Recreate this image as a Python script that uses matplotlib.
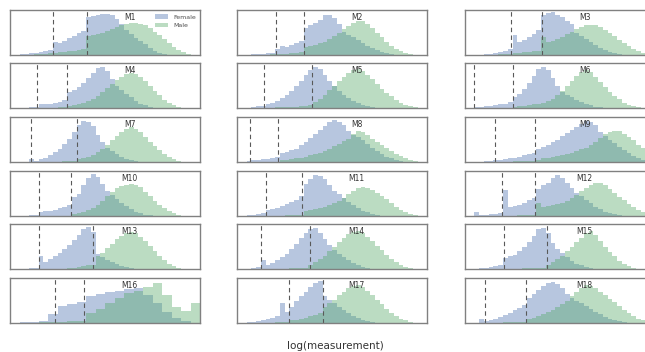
import numpy as np
import matplotlib.pyplot as plt

# panel labels
names = ["M%d" % i for i in range(1, 19)]

# histogram heights per panel (percent of panel height)
female = [
    [0,1,2,3, 4,5,7,9, 11,28,27,32, 38,43,48,53, 85,86,88,91, 92,88,80,68, 56,46,38,31, 24,16,9,5, 2,1,0,0, 0,0,0,0],
    [0,1,1,2, 3,3,4,5, 14,20,18,22, 27,32,60,66, 72,78,88,90, 82,68,52,45, 40,33,27,21, 16,11,7,4, 2,1,0,0, 0,0,0,0],
    [0,0,1,1, 2,3,4,6, 9,13,45,30, 34,40,46,55, 88,94,95,90, 84,76,68,50, 42,36,30,22, 16,11,7,4, 2,1,0,0, 0,0,0,0],
    [0,0,1,1, 2,2,8,8, 10,12,14,17, 35,40,46,55, 66,78,88,92, 82,65,50,40, 32,24,16,10, 6,3,1,0, 0,0,0,0, 0,0,0,0],
    [0,1,1,2, 4,5,8,11, 16,22,30,38, 48,60,74,85, 92,86,74,60, 48,38,30,22, 16,11,7,4, 2,1,0,0, 0,0,0,0, 0,0,0,0],
    [1,1,2,3, 4,5,6,8, 10,13,25,32, 42,56,72,86, 92,84,66,48, 36,30,24,18, 13,9,6,3, 2,1,0,0, 0,0,0,0, 0,0,0,0],
    [0,0,0,0, 6,3,6,10, 15,22,30,40, 52,66,82,92, 90,80,60,44, 32,24,17,11, 7,4,2,1, 0,0,0,0, 0,0,0,0, 0,0,0,0],
    [0,1,3,4, 5,6,7,9, 11,20,22,26, 30,37,45,54, 62,71,80,88, 93,90,82,70, 60,55,48,40, 32,24,18,12, 8,5,3,1, 0,0,0,0],
    [0,0,1,1, 2,3,4,5, 7,8,10,12, 15,17,20,30, 34,38,44,50, 57,64,71,78, 84,92,90,82, 66,58,50,42, 34,26,19,13, 8,5,3,1],
    [0,0,1,1, 2,3,10,11, 12,14,17,20, 25,42,50,70, 85,93,86,72, 56,46,38,30, 22,15,10,6, 3,2,1,0, 0,0,0,0, 0,0,0,0],
    [0,1,2,3, 4,6,14,15, 18,22,26,31, 36,44,72,82, 92,90,82,68, 56,48,40,32, 25,18,12,8, 5,3,1,0, 0,0,0,0, 0,0,0,0],
    [0,0,10,2, 3,4,5,6, 58,20,22,25, 30,35,40,60, 68,74,84,92, 84,74,62,52, 44,36,28,21, 15,10,7,4, 2,1,0,0, 0,0,0,0],
    [0,0,1,1, 2,3,28,16, 22,28,35,44, 54,64,76,88, 93,82,34,27, 20,15,11,7, 5,3,1,0, 0,0,0,0, 0,0,0,0, 0,0,0,0],
    [0,1,1,2, 4,20,10,14, 19,26,34,44, 55,68,80,90, 92,80,66,54, 43,34,26,19, 13,8,5,2, 1,0,0,0, 0,0,0,0, 0,0,0,0],
    [0,1,1,2, 3,5,7,10, 24,28,32,40, 48,60,74,88, 92,80,58,45, 35,26,18,12, 8,5,3,1, 0,0,0,0, 0,0,0,0, 0,0,0,0],
    [1,2,3,5, 20,38,42,46, 60,65,70,72, 76,78,62,45, 25,12,5,0],
    [0,1,2,3, 5,6,8,11, 15,45,25,36, 48,60,70,80, 90,93,60,52, 44,36,28,22, 16,11,7,4, 2,1,0,0, 0,0,0,0, 0,0,0,0],
    [0,0,1,10, 5,7,10,14, 18,23,28,34, 40,55,64,74, 82,90,92,86, 78,64,55,50, 44,38,31,25, 19,14,10,6, 4,2,1,0, 0,0,0,0],
]

male = [
    [0,0,0,1, 1,2,2,3, 4,5,6,7, 8,10,12,14, 42,44,47,50, 54,58,62,66, 70,72,72,70, 66,60,52,44, 35,26,18,11, 6,3,1,0],
    [0,0,0,0, 1,1,1,2, 2,3,3,4, 5,6,18,20, 22,26,30,36, 43,50,58,65, 72,76,75,70, 60,50,40,30, 21,14,8,4, 2,1,0,0],
    [0,0,0,0, 1,1,1,2, 2,3,4,5, 6,7,8,9, 40,30,32,36, 41,46,52,57, 62,66,67,66, 62,56,49,42, 34,26,19,13, 8,5,3,1],
    [0,0,0,0, 0,1,1,1, 1,1,2,2, 5,6,8,11, 15,20,26,35, 45,54,62,70, 75,78,76,70, 60,50,38,28, 18,11,6,3, 1,0,0,0],
    [0,0,0,0, 0,1,1,1, 2,2,2,3, 3,4,5,7, 14,20,30,40, 50,60,70,78, 84,86,82,74, 64,54,43,34, 26,18,12,7, 4,2,1,0],
    [0,0,0,0, 0,0,1,1, 1,1,3,4, 5,6,8,10, 12,15,20,28, 38,48,60,72, 80,85,80,70, 58,46,36,27, 19,12,7,4, 2,1,0,0],
    [0,0,0,0, 0,0,1,1, 1,1,1,2, 2,2,7,9, 12,16,22,30, 38,48,58,67, 74,78,74,66, 56,45,35,26, 18,11,6,3, 1,0,0,0],
    [0,0,0,0, 0,1,1,1, 1,4,5,6, 8,10,12,15, 18,21,25,30, 35,40,46,52, 62,68,66,60, 52,45,38,31, 24,18,13,9, 5,3,1,0],
    [0,0,0,0, 0,1,1,1, 1,1,2,2, 2,3,3,5, 8,10,12,14, 16,18,21,24, 28,32,38,45, 54,62,67,70, 68,63,56,48, 38,32,40,30],
    [0,0,0,0, 0,0,0,1, 1,1,1,1, 1,5,7,10, 14,18,24,33, 44,54,62,67, 70,72,70,64, 54,44,34,25, 18,11,6,3, 1,0,0,0],
    [0,0,0,0, 0,1,1,1, 1,1,2,2, 2,2,12,13, 15,17,20,24, 28,34,40,48, 56,62,64,62, 58,52,45,37, 29,21,14,9, 5,3,1,0],
    [0,0,0,0, 0,0,1,1, 1,1,1,2, 2,2,2,28, 20,22,24,27, 30,34,40,47, 55,62,68,74, 73,68,60,52, 43,35,27,20, 13,8,5,2],
    [0,0,0,0, 0,0,0,0, 1,1,1,1, 2,3,5,6, 8,10,28,36, 46,56,66,74, 80,83,80,72, 62,52,40,30, 20,12,7,3, 1,0,0,0],
    [0,0,0,0, 0,0,1,1, 1,1,1,2, 2,3,3,10, 16,22,30,40, 50,60,70,77, 82,85,80,72, 62,52,42,32, 23,15,9,5, 2,1,0,0],
    [0,0,0,0, 0,0,0,1, 1,1,1,1, 2,2,2,3, 3,10,15,22, 30,40,50,60, 70,80,84,76, 62,50,38,28, 18,11,6,3, 1,0,0,0],
    [0,1,1,2, 2,3,4,5, 22,32,44,56, 66,72,80,88, 62,35,27,45],
    [0,0,0,0, 0,1,1,1, 2,2,3,6, 7,9,12,15, 18,22,36,44, 52,62,70,77, 82,85,80,72, 62,52,42,32, 23,16,10,6, 3,1,0,0],
    [0,0,0,0, 1,1,1,1, 2,2,2,3, 3,8,11,15, 20,25,30,36, 42,50,60,70, 78,85,82,78, 70,62,54,46, 37,29,22,15, 10,6,3,1],
]

# dashed cut positions (fraction of panel x range)
cut_low = [0.224, 0.205, 0.24, 0.141, 0.142, 0.048, 0.109, 0.07, 0.157,
           0.15, 0.153, 0.196, 0.152, 0.126, 0.207, 0.237, 0.273, 0.105]
cut_high = [0.404, 0.353, 0.405, 0.302, 0.397, 0.253, 0.35, 0.218, 0.37,
            0.322, 0.342, 0.37, 0.437, 0.386, 0.43, 0.39, 0.455, 0.32]

W, H = 645, 352
fig = plt.figure(figsize=(W / 100, H / 100), dpi=100)

col_left = [10, 237, 465]
row_top = [10, 63, 117, 171, 224, 278]
aw, ah = 190, 45

for i, name in enumerate(names):
    r, c = divmod(i, 3)
    ax = fig.add_axes([col_left[c] / W, 1 - (row_top[r] + ah) / H, aw / W, ah / H])
    f = np.array(female[i])
    m = np.array(male[i])
    ax.stairs(f, np.linspace(0, 1, len(f) + 1), fill=True, color="#4C72B0", alpha=0.4, lw=0, label="Female")
    ax.stairs(m, np.linspace(0, 1, len(m) + 1), fill=True, color="#55A868", alpha=0.4, lw=0, label="Male")
    for x in (cut_low[i], cut_high[i]):
        ax.axvline(x, color="0.35", lw=0.8, ls=(0, (4, 3)))
    ax.set_xlim(0, 1)
    ax.set_ylim(0, 100)
    ax.set_xticks([])
    ax.set_yticks([])
    for s in ax.spines.values():
        s.set_color("0.5")
        s.set_linewidth(1.0)
    ax.text(0.63, 0.84, name, transform=ax.transAxes, ha="center", va="center",
            fontsize=5.5, color="0.2")
    if i == 0:
        ax.legend(loc="upper right", frameon=False, fontsize=4.5,
                  borderaxespad=0.3, handlelength=2.0, labelcolor="0.3")

fig.text(335 / W, 1 - 346 / H, "log(measurement)", ha="center", va="center",
         fontsize=7.5, color="0.2")

fig.savefig("out.png", dpi=100)
